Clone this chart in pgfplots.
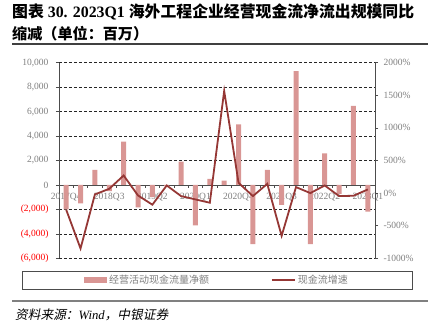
\documentclass[border=0pt]{standalone}
\usepackage{fontspec}
\usepackage{graphicx}
\usepackage{pgfplots}
\pgfplotsset{compat=1.18}
\setmainfont{Liberation Serif}
\newfontfamily\cjk{Noto Sans CJK SC}
\newfontfamily\cjkit[FakeSlant=0.2]{Noto Sans CJK SC}
\definecolor{barc}{HTML}{D99694}
\definecolor{linec}{HTML}{953735}
\definecolor{tickc}{HTML}{7F7F7F}
\begin{document}
\begin{tikzpicture}[x=1pt,y=1pt]
\useasboundingbox (0,0) rectangle (428,323);
% title
\node[anchor=west,inner sep=0pt] at (12,311) {\resizebox{402pt}{!}{\fontsize{15.5}{17}\selectfont{\cjk\bfseries 图表} {\bfseries 30. 2023Q1} {\cjk\bfseries 海外工程企业经营现金流净流出规模同比}}};
\node[anchor=west,inner sep=0pt] at (12,289) {\resizebox{136pt}{!}{\fontsize{15.5}{17}\selectfont\cjk\bfseries 缩减（单位：百万）}};
\draw[line width=1.3pt, black!75] (12,279) -- (428,279);
% bottom rule and source
\draw[line width=1.3pt, black!50] (12,22) -- (428,22);
\node[anchor=west,inner sep=0pt] at (15,8) {\resizebox{153pt}{!}{\fontsize{11.5}{12}\selectfont{\cjkit 资料来源：}{\itshape Wind}{\cjkit ，中银证券}}};

\begin{axis}[
  at={(59pt,64.7pt)}, anchor=south west,
  scale only axis, width=316pt, height=195.6pt,
  xmin=-0.5, xmax=21.5, ymin=-6000, ymax=10000,
  axis x line=middle, axis y line=left,
  axis line style={-, black!70, line width=0.8pt},
  hide obscured x ticks=false, hide obscured y ticks=false,
  scaled y ticks=false,
  tick align=outside,
  xtick={0,3,...,21},
  xticklabels={2017Q4,2018Q3,2019Q2,2020Q1,2020Q4,2021Q3,2022Q2,2023Q1},
  major x tick style={draw=none},
  minor xtick={-0.5,0.5,...,21.5},
  minor tick length=3pt,
  minor x tick style={black!70, line width=0.6pt},
  ytick={-6000,-4000,...,10000},
  yticklabels={{\textcolor{red}{(6,000)}},{\textcolor{red}{(4,000)}},{\textcolor{red}{(2,000)}},0,{2,000},{4,000},{6,000},{8,000},{10,000}},
  major tick length=3pt,
  major y tick style={black!70, line width=0.6pt},
  ymajorgrids,
  grid style={dash pattern=on 3pt off 2pt, black!85, line width=0.6pt},
  tick label style={font=\fontsize{9.5}{10}\selectfont, text=tickc},
  xticklabel style={yshift=-2pt},
  yticklabel style={xshift=-4pt},
  legend columns=2,
  legend style={at={(0.5,-0.111)}, anchor=center, draw=black!70, line width=0.8pt,
    inner xsep=62pt, inner ysep=2pt,
    font=\fontsize{10}{11}\selectfont\cjk\color{tickc},
    /tikz/every even column/.append style={column sep=60pt}},
]
\addplot[ybar, bar width=5pt, fill=barc, draw=none,
  legend image code/.code={\fill[barc] (0pt,-3pt) rectangle (23pt,3pt);}]
coordinates {
(0,-2000) (1,-1500) (2,1230) (3,-500) (4,3540) (5,-1830) (6,-1000) (7,-100)
(8,1900) (9,-3300) (10,490) (11,350) (12,4950) (13,-4850) (14,1230) (15,-1630)
(16,9320) (17,-4850) (18,2590) (19,-740) (20,6460) (21,-2180)
};
\addlegendentry{经营活动现金流量净额}
\addlegendimage{legend image code/.code={\draw[linec, line width=1.8pt] (0pt,0pt) -- (23pt,0pt);}}
\addlegendentry{现金流增速}
\end{axis}

\begin{axis}[
  at={(59pt,64.7pt)}, anchor=south west,
  scale only axis, width=316pt, height=195.6pt,
  xmin=-0.5, xmax=21.5, ymin=-1000, ymax=2000,
  axis x line=none, axis y line=right,
  axis line style={-, black!70, line width=0.8pt},
  tick align=outside,
  ytick={-1000,-500,...,2000},
  yticklabels={-1000\%,-500\%,0\%,500\%,1000\%,1500\%,2000\%},
  major tick length=3pt,
  major y tick style={black!70, line width=0.6pt},
  tick label style={font=\fontsize{9.5}{10}\selectfont, text=tickc},
  yticklabel style={xshift=2pt},
]
\addplot[linec, line width=1.8pt, sharp plot] coordinates {
(0,-254) (1,-850) (2,-20) (3,66) (4,270) (5,-36) (6,-178) (7,117)
(8,-46) (9,-97) (10,-148) (11,1567) (12,158) (13,-46) (14,142) (15,-656)
(16,92) (17,0) (18,117) (19,-46) (20,-41) (21,56)
};
\end{axis}
\end{tikzpicture}
\end{document}
